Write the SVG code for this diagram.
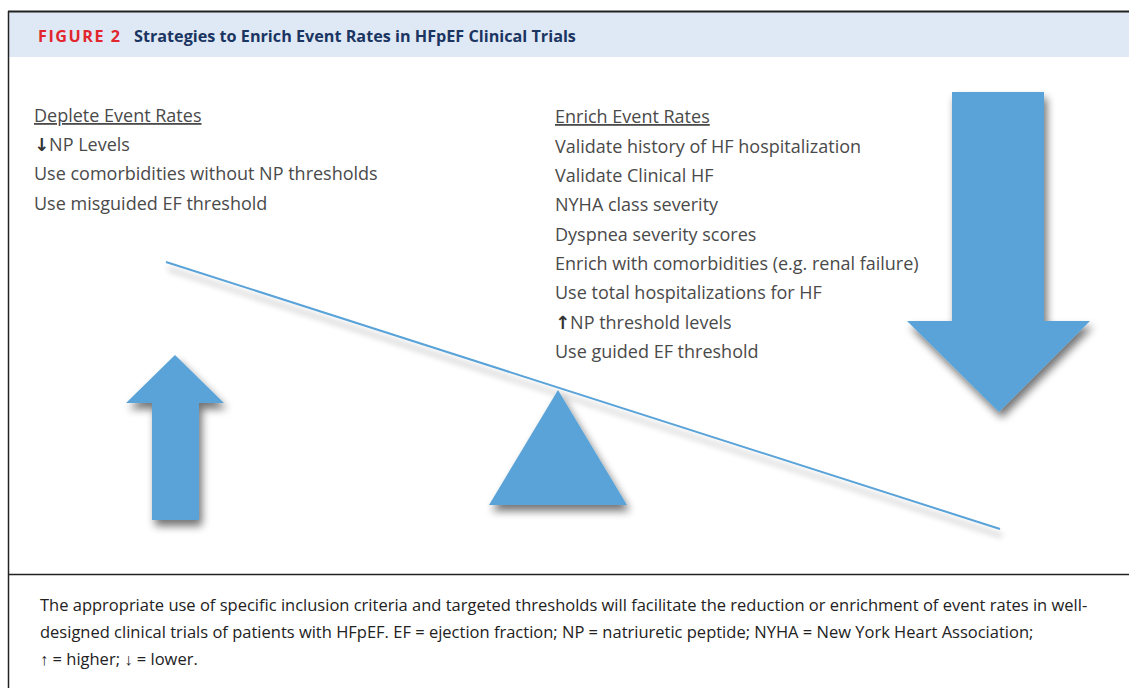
<svg xmlns="http://www.w3.org/2000/svg" width="1129" height="688" viewBox="0 0 1129 688">
<style>
.hdr{font-family:"Open Sans","Liberation Sans",sans-serif;font-weight:700;font-size:16.2px}
.body{font-family:"Open Sans","Liberation Sans",sans-serif;font-size:18px;fill:#4a4a4a}
.head{text-decoration:underline}
.cap{font-family:"Open Sans","Liberation Sans",sans-serif;font-size:16.5px;fill:#222}
.shape{fill:#5aa3d8}
.arr{font-family:"DejaVu Sans",sans-serif;font-weight:700;fill:#333}
</style>
<defs>
<filter id="sh" x="-30%" y="-30%" width="160%" height="160%">
<feGaussianBlur in="SourceAlpha" stdDeviation="4"/>
<feOffset dx="3" dy="6" result="b"/>
<feComponentTransfer><feFuncA type="linear" slope="0.55"/></feComponentTransfer>
<feMerge><feMergeNode/><feMergeNode in="SourceGraphic"/></feMerge>
</filter>
<filter id="shl" x="-10%" y="-200%" width="120%" height="500%">
<feGaussianBlur in="SourceAlpha" stdDeviation="3"/>
<feOffset dx="2" dy="7" result="b"/>
<feComponentTransfer><feFuncA type="linear" slope="0.35"/></feComponentTransfer>
<feMerge><feMergeNode/><feMergeNode in="SourceGraphic"/></feMerge>
</filter>
</defs>
<rect width="1129" height="688" fill="#fff"/>
<g id="frame">
<rect x="9" y="12" width="1120" height="45" fill="#dfe9f5"/>
<line x1="8" y1="11.5" x2="1129" y2="11.5" stroke="#222" stroke-width="2"/>
<line x1="8.5" y1="11" x2="8.5" y2="688" stroke="#222" stroke-width="1.5"/>
<line x1="8" y1="574.5" x2="1129" y2="574.5" stroke="#222" stroke-width="1.5"/>
</g>
<g id="title">
<text x="38" y="42" class="hdr" fill="#e2262e" letter-spacing="1.5">FIGURE 2</text>
<text x="134" y="42" class="hdr" fill="#1b3562">Strategies to Enrich Event Rates in HFpEF Clinical Trials</text>
</g>
<g id="lever">
<line x1="166" y1="262" x2="1000" y2="529" stroke="#5aa3d8" stroke-width="2" filter="url(#shl)"/>
</g>
<g id="up-arrow">
<polygon class="shape" filter="url(#sh)" points="175,355 224,403 199,403 199,520 152,520 152,403 126,403"/>
</g>
<g id="fulcrum">
<polygon class="shape" filter="url(#sh)" points="558,390 627,505 489,505"/>
</g>
<g id="down-arrow">
<polygon class="shape" filter="url(#sh)" points="952,92 1044,92 1044,321 1090,321 999,412 907,321 952,321"/>
</g>
<g id="deplete">
<text x="34" y="122" class="body head">Deplete Event Rates </text>
<text x="34" y="151" class="body"><tspan class="arr">↓</tspan>NP Levels</text>
<text x="34" y="180" class="body">Use comorbidities without NP thresholds</text>
<text x="34" y="210" class="body">Use misguided EF threshold</text>
</g>
<g id="enrich">
<text x="555" y="123" class="body head">Enrich Event Rates </text>
<text x="555" y="153" class="body">Validate history of HF hospitalization</text>
<text x="555" y="182" class="body">Validate Clinical HF</text>
<text x="555" y="211" class="body">NYHA class severity</text>
<text x="555" y="241" class="body">Dyspnea severity scores</text>
<text x="555" y="270" class="body">Enrich with comorbidities (e.g. renal failure)</text>
<text x="555" y="299" class="body">Use total hospitalizations for HF</text>
<text x="555" y="329" class="body"><tspan class="arr">↑</tspan>NP threshold levels</text>
<text x="555" y="358" class="body">Use guided EF threshold</text>
</g>
<g id="caption">
<text x="40" y="611" class="cap">The appropriate use of specific inclusion criteria and targeted thresholds will facilitate the reduction or enrichment of event rates in well-</text>
<text x="40" y="638" class="cap">designed clinical trials of patients with HFpEF. EF = ejection fraction; NP = natriuretic peptide; NYHA = New York Heart Association;</text>
<text x="40" y="665" class="cap">↑ = higher; ↓ = lower.</text>
</g>
</svg>
